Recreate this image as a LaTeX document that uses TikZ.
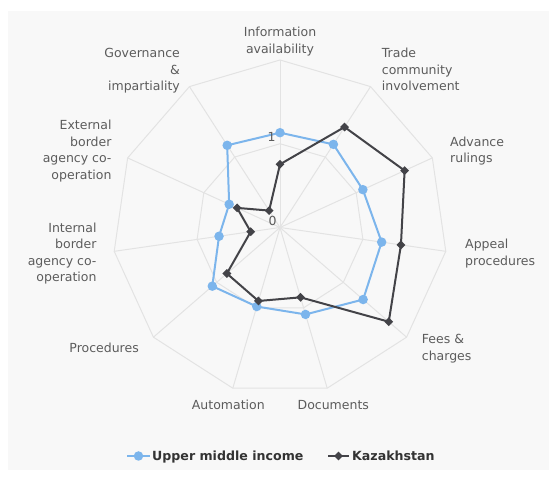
\documentclass[tikz,border=0pt]{standalone}
\usepackage{fontspec}
\setmainfont{DejaVu Sans}
\usetikzlibrary{shapes.geometric}
\definecolor{umi}{HTML}{7CB5EC}
\definecolor{kaz}{HTML}{434348}
\definecolor{gridc}{HTML}{E3E3E3}
\definecolor{lab}{HTML}{5C5C5C}
\definecolor{legtext}{HTML}{333333}
\definecolor{bg}{HTML}{F8F8F8}
\begin{document}
\begin{tikzpicture}[x=1pt,y=1pt,
  gridline/.style={draw=gridc,line width=1pt},
  umiline/.style={draw=umi,line width=2pt,line join=round},
  kazline/.style={draw=kaz,line width=2pt,line join=round},
  umidot/.style={circle,fill=umi,inner sep=0pt,minimum size=9.5pt},
  kazdot/.style={diamond,fill=kaz,inner sep=0pt,minimum size=9pt},
  axlab/.style={text=lab,inner sep=0pt,font=\fontsize{12.5}{16.5}\selectfont},
  leglab/.style={text=legtext,inner sep=0pt,font=\fontsize{12.6}{14}\selectfont\bfseries}]
\useasboundingbox (0,0) rectangle (549,478);
\fill[bg] (8,8) rectangle (549,467);
\begin{scope}[shift={(280,250.5)}]
  \coordinate (c) at (0,0);
  \foreach \k in {0,...,10}{
    \coordinate (o\k) at ({90-\k*360/11}:167.5);
    \coordinate (i\k) at ({90-\k*360/11}:83.75);
  }
  \draw[gridline] (o0) \foreach \k in {1,...,10}{ -- (o\k)} -- cycle;
  \draw[gridline] (i0) \foreach \k in {1,...,10}{ -- (i\k)} -- cycle;
  \foreach \k in {0,...,10}{ \draw[gridline] (c) -- (o\k); }
  % data
  \foreach \k/\r in {0/94.8,1/98.8,2/91.1,3/102.7,4/110,5/90.6,6/82.4,7/89.6,8/61.6,9/55.9,10/97.7}{
    \coordinate (b\k) at ({90-\k*360/11}:\r);
  }
  \foreach \k/\r in {0/63.2,1/119.4,2/137,3/122.2,4/143.9,5/72.8,6/76.6,7/70.3,8/29.6,9/47.2,10/20.1}{
    \coordinate (d\k) at ({90-\k*360/11}:\r);
  }
  \draw[umiline] (b0) \foreach \k in {1,...,10}{ -- (b\k)} -- cycle;
  \foreach \k in {0,...,10}{ \node[umidot] (bm\k) at (b\k) {}; }
  \draw[kazline] (d0) \foreach \k in {1,...,10}{ -- (d\k)} -- cycle;
  \foreach \k in {0,...,10}{ \node[kazdot] (dm\k) at (d\k) {}; }
\end{scope}
% axis value labels
\node[axlab] (v0) at (272.7,257.3) {0};
\node[axlab] (v1) at (271.7,340.7) {1};
% category labels
\node[axlab,anchor=north,align=center] (l0) at (280,450.7) {Information\\availability};
\node[axlab,anchor=north west,align=left] (l1) at (381.7,429.7) {Trade\\community\\involvement};
\node[axlab,anchor=north west,align=left] (l2) at (450,341.3) {Advance\\rulings};
\node[axlab,anchor=north west,align=left] (l3) at (465,239) {Appeal\\procedures};
\node[axlab,anchor=north west,align=left] (l4) at (421.7,143.7) {Fees \&\\charges};
\node[axlab,anchor=north] (l5) at (333.3,78) {Documents};
\node[axlab,anchor=north] (l6) at (228.3,78) {Automation};
\node[axlab,anchor=north east] (l7) at (139,135) {Procedures};
\node[axlab,anchor=north east,align=right] (l8) at (96.7,255.3) {Internal\\border\\agency co-\\operation};
\node[axlab,anchor=north east,align=right] (l9) at (111.7,358) {External\\border\\agency co-\\operation};
\node[axlab,anchor=north east,align=right] (l10) at (180,429.7) {Governance\\\&\\impartiality};
% legend
\coordinate (ua) at (127,22);
\coordinate (ub) at (150,22);
\draw[umiline] (ua) -- (ub);
\node[umidot] (um) at (138.5,22) {};
\node[leglab,anchor=base west] (ut) at (152,17.5) {Upper middle income};
\coordinate (ka) at (328,22);
\coordinate (kb) at (349,22);
\draw[kazline] (ka) -- (kb);
\node[kazdot] (km) at (338.5,22) {};
\node[leglab,anchor=base west] (kt) at (352,17.5) {Kazakhstan};
\end{tikzpicture}
\end{document}
